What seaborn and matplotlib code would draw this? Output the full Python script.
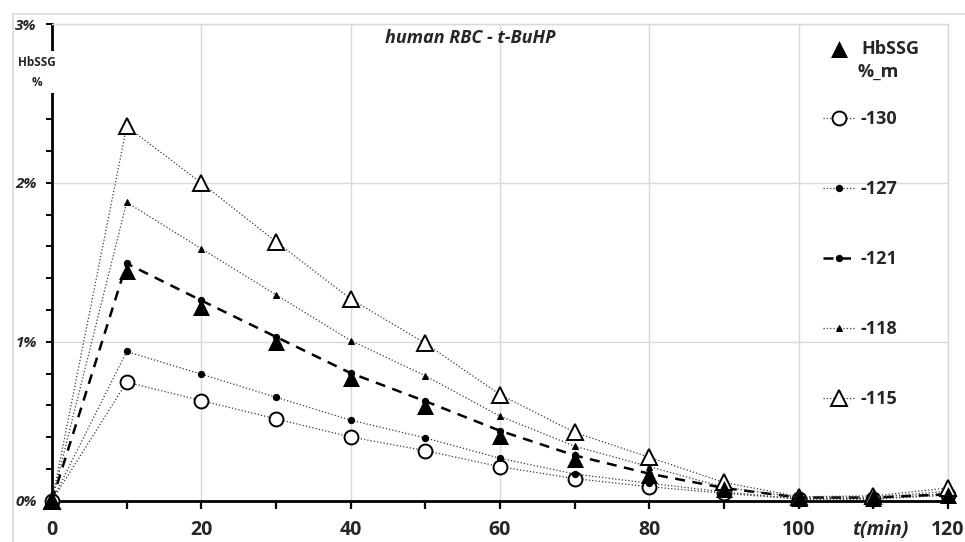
import matplotlib
matplotlib.use("Agg")
import matplotlib.pyplot as plt
from matplotlib.patches import Rectangle
from matplotlib.ticker import MultipleLocator, FuncFormatter
import seaborn as sns
import numpy as np

# ---- data (HbSSG %) ----
t_min = [0, 10, 20, 30, 40, 50, 60, 70, 80, 90, 100, 110, 120]
s_130 = [0.0, 0.746, 0.630, 0.515, 0.401, 0.315, 0.214, 0.139, 0.088, 0.047, 0.010, 0.010, 0.035]
s_127 = [0.0, 0.939, 0.796, 0.651, 0.507, 0.395, 0.267, 0.168, 0.110, 0.055, 0.012, 0.012, 0.045]
s_121 = [0.0, 1.493, 1.260, 1.031, 0.803, 0.626, 0.440, 0.285, 0.170, 0.080, 0.020, 0.020, 0.040]
s_118 = [0.0, 1.878, 1.586, 1.296, 1.008, 0.786, 0.532, 0.343, 0.214, 0.085, 0.020, 0.020, 0.060]
s_115 = [0.0, 2.355, 2.000, 1.630, 1.270, 0.990, 0.668, 0.430, 0.273, 0.115, 0.025, 0.030, 0.080]
mean_m = [0.0, 1.443, 1.216, 0.996, 0.771, 0.599, 0.410, 0.265, 0.162, 0.075, 0.018, 0.018, 0.035]
series_labels = ["-130", "-127", "-121", "-118", "-115"]
x_ticks = [0, 20, 40, 60, 80, 100, 120]
y_ticks = [0, 1, 2, 3]
title = "human RBC - t-BuHP"

sns.set_style("white")
plt.rcParams["font.family"] = ["Open Sans", "DejaVu Sans"]

W, H = 965, 542
fig = plt.figure(figsize=(W / 100, H / 100), dpi=100)
x0, x1 = 52, 948
y_top, y_bot = 24, 500.7
ax = fig.add_axes([x0 / W, 1 - y_bot / H, (x1 - x0) / W, (y_bot - y_top) / H])

# chart-area border
fig.patches.append(Rectangle((13 / W, -0.05), 1.2, 1 - 14 / H + 0.05, transform=fig.transFigure,
                             fill=False, ec="#d9d9d9", lw=1.2, zorder=0))

dot_col = "#3a3a3a"
styles = [
    dict(marker="o", markersize=10, markerfacecolor="white", markeredgecolor="black",
         markeredgewidth=1.4, linestyle=":", color=dot_col, lw=0.9),
    dict(marker="o", markersize=4.5, markerfacecolor="black", markeredgecolor="black",
         linestyle=":", color=dot_col, lw=0.9),
    dict(marker="o", markersize=4.5, markerfacecolor="black", markeredgecolor="black",
         linestyle=(0, (4, 3)), color="black", lw=1.8),
    dict(marker="^", markersize=5, markerfacecolor="black", markeredgecolor="black",
         linestyle=":", color=dot_col, lw=0.9),
    dict(marker="^", markersize=11, markerfacecolor="white", markeredgecolor="black",
         markeredgewidth=1.4, linestyle=":", color=dot_col, lw=0.9),
]
all_series = [s_130, s_127, s_121, s_118, s_115]
for vals, lab, st in zip(all_series, series_labels, styles):
    sns.lineplot(x=t_min, y=vals, ax=ax, label=lab, clip_on=False, zorder=3, **st)

sns.scatterplot(x=t_min, y=mean_m, ax=ax, marker="^", s=150, color="black",
                edgecolor="black", linewidth=0, label="HbSSG", clip_on=False, zorder=4)

ax.set_xlim(0, 120)
ax.set_ylim(0, 3)
ax.set_xticks(x_ticks)
ax.xaxis.set_minor_locator(MultipleLocator(10))
ax.set_yticks(y_ticks)
ax.yaxis.set_minor_locator(MultipleLocator(0.2))
ax.yaxis.set_major_formatter(FuncFormatter(lambda v, p: f"{v:.0f}%"))
ax.grid(True, which="major", color="#d9d9d9", lw=1.0)
ax.set_axisbelow(True)

for s in ["top", "right"]:
    ax.spines[s].set_color("#d9d9d9")
    ax.spines[s].set_linewidth(1.0)
for s in ["left", "bottom"]:
    ax.spines[s].set_color("black")
    ax.spines[s].set_linewidth(2.0)
    ax.spines[s].set_zorder(2.5)

ax.tick_params(axis="x", which="both", direction="out", length=6, width=1.6,
               color="black", bottom=True, pad=8)
ax.tick_params(axis="y", which="both", direction="out", length=4, width=1.4,
               color="black", left=True, pad=7)
for lab in ax.get_xticklabels():
    lab.set_fontsize(14)
    lab.set_fontweight("bold")
for lab in ax.get_yticklabels():
    lab.set_fontsize(11)
    lab.set_fontweight("bold")
    lab.set_fontstyle("italic")
ax.set_xlabel("")
ax.set_ylabel("")

# axis labels
fig.text(37 / W, 1 - 72 / H, "HbSSG\n%", ha="center", va="center", fontsize=8.5,
         fontweight="bold", linespacing=1.7,
         bbox=dict(facecolor="white", edgecolor="none", pad=3), zorder=10)
fig.text(880 / W, 1 - 530 / H, "t(min)", ha="center", va="center", fontsize=14,
         fontweight="bold", fontstyle="italic",
         bbox=dict(facecolor="white", edgecolor="none", pad=0.5), zorder=10)
fig.text(470 / W, 1 - 38 / H, title, ha="center", va="center", fontsize=13,
         fontweight="bold", fontstyle="italic")

# legend
handles, labels = ax.get_legend_handles_labels()
order = [labels.index("HbSSG")] + [labels.index(l) for l in series_labels]
leg = ax.legend([handles[i] for i in order], [labels[i] for i in order],
                loc="upper left", bbox_to_anchor=(823 / W, 1 - 40 / H),
                bbox_transform=fig.transFigure, frameon=False, borderpad=0,
                borderaxespad=0, handlelength=1.8, handletextpad=0.3,
                labelspacing=2.88, prop=dict(size=13, weight="bold"))
fig.text(858 / W, 1 - 72 / H, "%_m", ha="left", va="center", fontsize=13, fontweight="bold")

fig.savefig("out.png", dpi=100)
